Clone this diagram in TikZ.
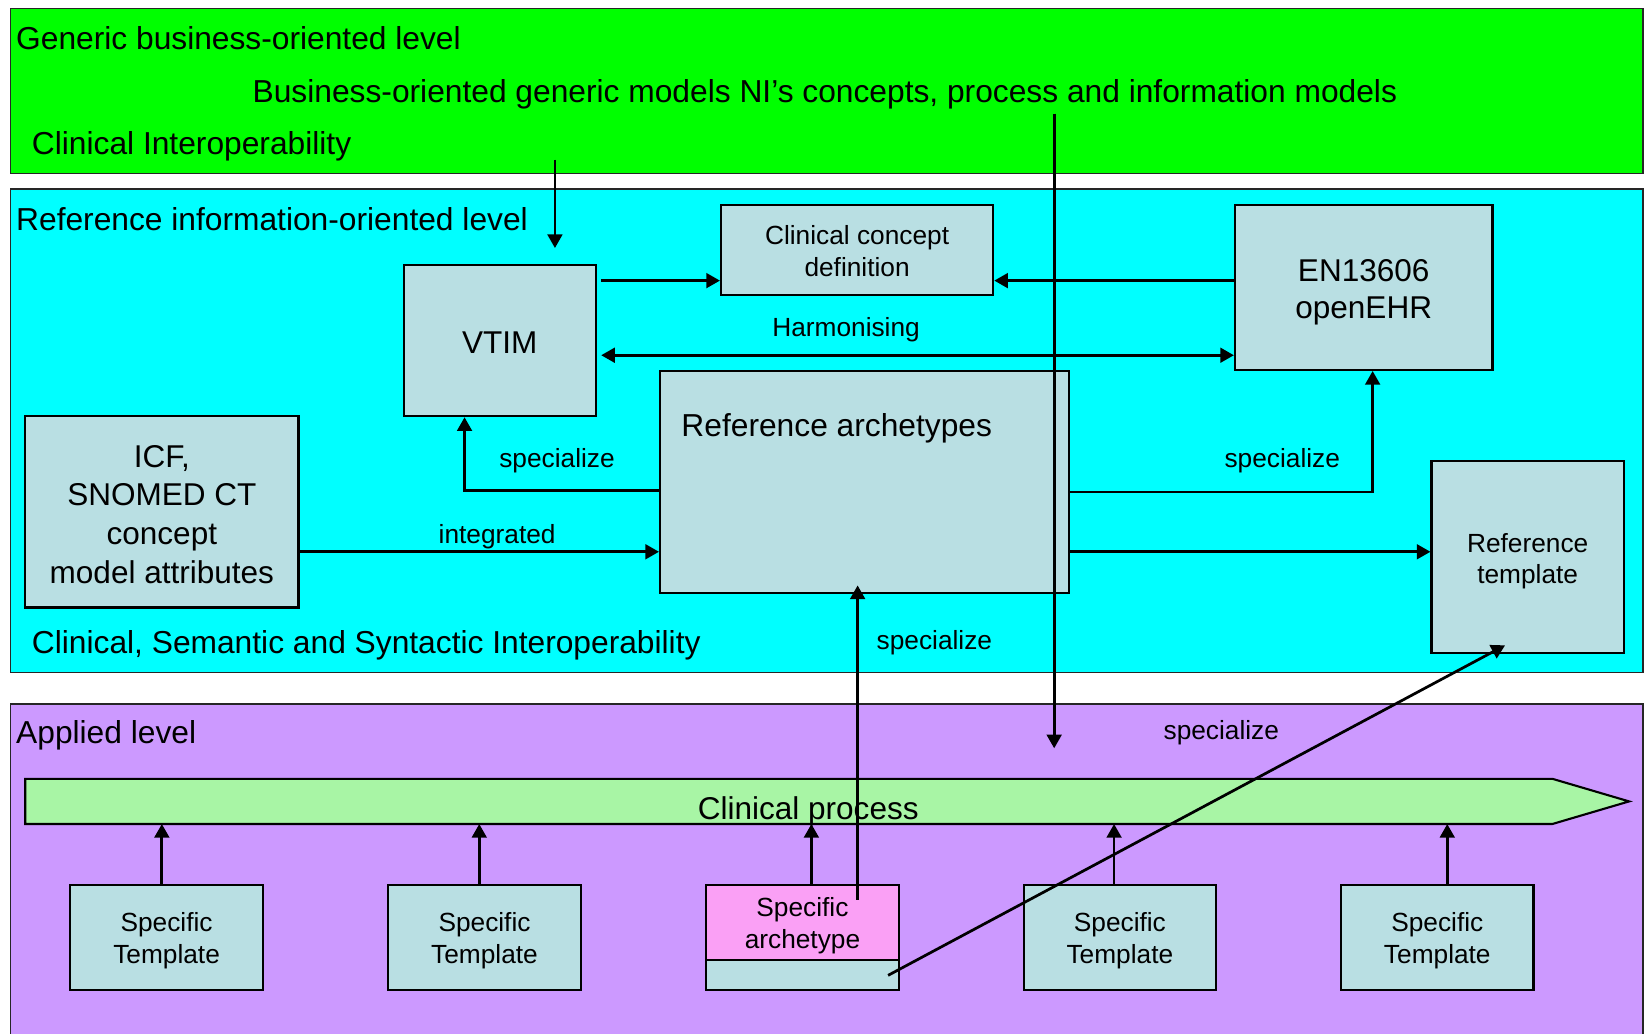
\documentclass[tikz,border=0pt]{standalone}
\usepackage{fontspec}
\setmainfont{Liberation Sans}
\usetikzlibrary{arrows.meta}
\definecolor{bandgreen}{RGB}{0,255,0}
\definecolor{bandcyan}{RGB}{0,255,255}
\definecolor{bandpurple}{RGB}{204,153,255}
\definecolor{boxblue}{RGB}{185,223,227}
\definecolor{procgreen}{RGB}{168,245,165}
\definecolor{pinkarch}{RGB}{250,160,245}
\newcommand\firststrut[1]{\rule{0pt}{#1}}
\begin{document}
\begin{tikzpicture}[x=0.5pt,y=-0.5pt,
  band/.style={draw=black!85, line width=0.8pt},
  box/.style={draw=black, line width=1pt, fill=boxblue, inner sep=0pt, align=center, font=\fontsize{12.5}{15}\selectfont},
  bigbox/.style={box, font=\fontsize{15}{18}\selectfont},
  lbl/.style={inner sep=0pt, font=\fontsize{12.5}{15}\selectfont, anchor=base},
  title/.style={inner sep=0pt, font=\fontsize{15.1}{18}\selectfont, anchor=base west},
  tip/.tip={Triangle[length=6.5pt,width=7pt]},
  conn/.style={line width=1.3pt, -tip},
  dconn/.style={line width=1.3pt, tip-tip}]
\useasboundingbox (0,0) rectangle (1568,983);
\begin{scope}
\clip (0,0) rectangle (1568,983);
% bands
\draw[band, fill=bandgreen] (10,8) rectangle (1563,165);
\draw[band, fill=bandcyan] (10,180) rectangle (1563,640);
\draw[band, fill=bandpurple] (10,670) rectangle (1563,995);
% titles
\node[title] (t1) at (15,47) {Generic business-oriented level};
\node[title] (t2) at (240,98) {Business-oriented generic models NI’s concepts, process and information models};
\node[title] (t3) at (30,147) {Clinical Interoperability};
\node[title] (t4) at (15,219) {Reference information-oriented level};
\node[title] (t5) at (30,622) {Clinical, Semantic and Syntactic Interoperability};
\node[title] (t6) at (15,707) {Applied level};
% boxes
\node[bigbox, minimum width=91.5pt, minimum height=72pt] (vtim) at (475.5,324) {\firststrut{12pt}VTIM};
\node[box, minimum width=129.5pt, minimum height=43pt] (ccd) at (815.5,238) {\firststrut{10pt}Clinical concept\\definition};
\node[bigbox, minimum width=122.5pt, minimum height=78.5pt] (en) at (1297.5,273.5) {\firststrut{15pt}EN13606\\openEHR};
\node[box, minimum width=194.5pt, minimum height=105.5pt] (refarch) at (822.5,458.5) {};
\node[title] (tra) at (648,415) {Reference archetypes};
\node[bigbox, font=\fontsize{15}{18.5}\selectfont, minimum width=130pt, minimum height=91pt] (icf) at (154,487) {\firststrut{13pt}ICF,\\SNOMED CT\\concept\\model attributes};
\node[box, minimum width=91.5pt, minimum height=91pt] (reftpl) at (1453.5,530) {\firststrut{13pt}Reference\\template};
% clinical process
\draw[line width=1pt, fill=procgreen] (24,741) -- (1477,741) -- (1550,762.5) -- (1477,784) -- (24,784) -- cycle;
\coordinate (cpsw) at (24,784);
\node[lbl, font=\fontsize{15}{18}\selectfont] (tcp) at (769,780) {Clinical process};
% applied boxes
\node[box, minimum width=91.5pt, minimum height=50pt] (st1) at (158.5,892) {\firststrut{12pt}Specific\\Template};
\node[box, minimum width=91.5pt, minimum height=50pt] (st2) at (461,892) {\firststrut{12pt}Specific\\Template};
\node[box, minimum width=91.5pt, minimum height=50pt] (sa) at (763.5,892) {};
\node[box, fill=pinkarch, minimum width=91.5pt, minimum height=35.5pt] (satop) at (763.5,877.5) {\firststrut{12.5pt}Specific\\archetype};
\node[box, minimum width=91.5pt, minimum height=50pt] (st4) at (1065.5,892) {\firststrut{12pt}Specific\\Template};
\node[box, minimum width=91.5pt, minimum height=50pt] (st5) at (1367.5,892) {\firststrut{12pt}Specific\\Template};
% connectors
\coordinate (gsrc1) at (528,152);
\coordinate (vtimin) at (528,236);
\draw[conn] (gsrc1) -- (vtimin);
\coordinate (gsrc2) at (1003,108);
\coordinate (applin) at (1003,712);
\draw[conn] (gsrc2) -- (applin);
\draw[conn, shorten <=2pt] (vtim.east |- 0,267) -- (ccd.west |- 0,267);
\draw[conn] (en.west |- 0,267) -- (ccd.east |- 0,267);
\draw[dconn, shorten <=2pt] (vtim.east |- 0,338) -- (en.west |- 0,338);
\draw[conn] (refarch.west |- 0,467) -| (vtim.south -| 442,0);
\draw[conn] (refarch.east |- 0,468) -| (en.south -| 1306,0);
\draw[conn] (icf.east |- 0,525) -- (refarch.west |- 0,525);
\draw[conn] (refarch.east |- 0,525) -- (reftpl.west |- 0,525);
\coordinate (sain) at (816,856);
\draw[conn, shorten >=-4pt] (sain) -- (refarch.south -| 816,0);
\coordinate (sadiag) at (845,928);
\coordinate (rtin) at (1432,614);
\draw[conn] (sadiag) -- (rtin);
\draw[conn] (st1.north -| 154,0) -- (cpsw -| 154,0);
\draw[conn] (st2.north -| 456,0) -- (cpsw -| 456,0);
\draw[conn] (satop.north -| 772,0) -- (cpsw -| 772,0);
\draw[conn] (st4.north -| 1060,0) -- (cpsw -| 1060,0);
\draw[conn] (st5.north -| 1377,0) -- (cpsw -| 1377,0);
% labels
\node[lbl] (lharm) at (805,320) {Harmonising};
\node[lbl] (lsp1) at (530,445) {specialize};
\node[lbl] (lsp2) at (1220,445) {specialize};
\node[lbl] (lint) at (473,517) {integrated};
\node[lbl] (lsp3) at (889,618) {specialize};
\node[lbl] (lsp4) at (1162,704) {specialize};
\end{scope}
\end{tikzpicture}
\end{document}
